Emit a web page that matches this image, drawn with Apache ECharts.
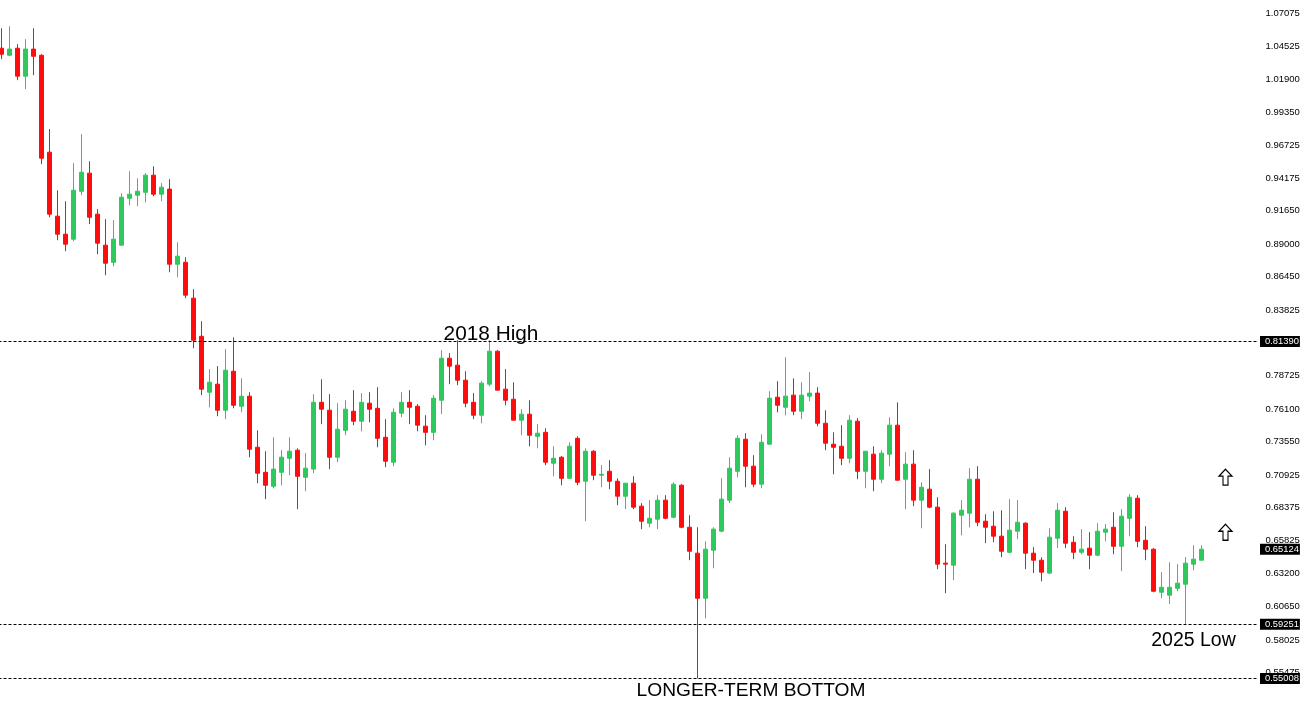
<!DOCTYPE html>
<html>
<head>
    <meta charset="UTF-8">
    <title>Longer-term candlestick chart</title>
    <script src="https://cdn.jsdelivr.net/npm/echarts@6/dist/echarts.min.js"></script>
    <style>
        html, body {margin: 0; padding: 0; background: #fff;}
        #chart {width: 1304px; height: 701px;}
    </style>
</head>
<body>
    <div id="chart"></div>

    <script>
        // candle values, oldest first
        const opens = [
            1.0435, 1.0380, 1.0435, 1.0216, 1.0428, 1.0380, 0.9621, 0.9120, 0.8979, 0.8940,
            0.9315, 0.9457, 0.9136, 0.8893, 0.8759, 0.8893, 0.9260, 0.9284, 0.9307, 0.9441,
            0.9292, 0.9332, 0.8744, 0.8759, 0.8478, 0.8180, 0.7742, 0.7805, 0.7601, 0.7906,
            0.7632, 0.7711, 0.7311, 0.7115, 0.7006, 0.7115, 0.7225, 0.7288, 0.7076, 0.7140,
            0.7663, 0.7601, 0.7233, 0.7444, 0.7593, 0.7515, 0.7656, 0.7616, 0.7389, 0.7194,
            0.7578, 0.7663, 0.7632, 0.7476, 0.7428, 0.7679, 0.8008, 0.7954, 0.7836, 0.7663,
            0.7562, 0.7805, 0.8063, 0.7766, 0.7687, 0.7523, 0.7570, 0.7397, 0.7428, 0.7186,
            0.7233, 0.7068, 0.7381, 0.7045, 0.7280, 0.7092, 0.7123, 0.7045, 0.6928, 0.7030,
            0.6850, 0.6717, 0.6748, 0.6897, 0.6763, 0.7014, 0.6685, 0.6482, 0.6129, 0.6505,
            0.6654, 0.6897, 0.7123, 0.7374, 0.7163, 0.7022, 0.7335, 0.7703, 0.7624, 0.7719,
            0.7593, 0.7711, 0.7735, 0.7499, 0.7335, 0.7319, 0.7225, 0.7515, 0.7123, 0.7257,
            0.7061, 0.7257, 0.7484, 0.7061, 0.7179, 0.6897, 0.6983, 0.6842, 0.6404, 0.6388,
            0.6779, 0.6795, 0.7061, 0.6732, 0.6693, 0.6615, 0.6489, 0.6654, 0.6717, 0.6482,
            0.6427, 0.6326, 0.6599, 0.6810, 0.6567, 0.6489, 0.6521, 0.6466, 0.6646, 0.6685,
            0.6536, 0.6755, 0.6912, 0.6583, 0.6513, 0.6176, 0.6153, 0.6207, 0.6239, 0.6396,
            0.6427
        ];
        const closes = [
            1.0388, 1.0428, 1.0216, 1.0428, 1.0372, 0.9574, 0.9136, 0.8979, 0.8901, 0.9323,
            0.9464, 0.9112, 0.8909, 0.8752, 0.8940, 0.9268, 0.9292, 0.9315, 0.9441, 0.9292,
            0.9347, 0.8744, 0.8807, 0.8502, 0.8149, 0.7766, 0.7820, 0.7601, 0.7914, 0.7640,
            0.7711, 0.7296, 0.7108, 0.7014, 0.7140, 0.7233, 0.7280, 0.7084, 0.7147, 0.7663,
            0.7609, 0.7233, 0.7452, 0.7609, 0.7515, 0.7663, 0.7609, 0.7381, 0.7202, 0.7585,
            0.7663, 0.7624, 0.7484, 0.7428, 0.7695, 0.8008, 0.7946, 0.7836, 0.7656, 0.7562,
            0.7813, 0.8063, 0.7758, 0.7679, 0.7523, 0.7570, 0.7405, 0.7421, 0.7194, 0.7225,
            0.7068, 0.7319, 0.7037, 0.7280, 0.7092, 0.7100, 0.7045, 0.6928, 0.7030, 0.6842,
            0.6732, 0.6755, 0.6897, 0.6755, 0.7022, 0.6685, 0.6497, 0.6129, 0.6513, 0.6670,
            0.6905, 0.7147, 0.7381, 0.7163, 0.7022, 0.7350, 0.7695, 0.7640, 0.7711, 0.7593,
            0.7719, 0.7735, 0.7499, 0.7343, 0.7311, 0.7225, 0.7523, 0.7123, 0.7280, 0.7061,
            0.7265, 0.7484, 0.7053, 0.7179, 0.6897, 0.6998, 0.6842, 0.6396, 0.6396, 0.6795,
            0.6818, 0.7061, 0.6724, 0.6685, 0.6615, 0.6497, 0.6662, 0.6724, 0.6482, 0.6427,
            0.6333, 0.6607, 0.6818, 0.6560, 0.6489, 0.6513, 0.6466, 0.6654, 0.6670, 0.6536,
            0.6771, 0.6920, 0.6575, 0.6513, 0.6184, 0.6215, 0.6215, 0.6247, 0.6404, 0.6435,
            0.6513
        ];
        const lows = [
            1.0349, 1.0372, 1.0185, 1.0115, 1.0224, 0.9527, 0.9112, 0.8932, 0.8846, 0.8924,
            0.9284, 0.9058, 0.8823, 0.8658, 0.8728, 0.8893, 0.9206, 0.9198, 0.9229, 0.9276,
            0.9237, 0.8681, 0.8642, 0.8478, 0.8086, 0.7719, 0.7624, 0.7554, 0.7531, 0.7616,
            0.7585, 0.7233, 0.7030, 0.6905, 0.6990, 0.7014, 0.7092, 0.6827, 0.6967, 0.7108,
            0.7492, 0.7140, 0.7194, 0.7405, 0.7484, 0.7436, 0.7507, 0.7311, 0.7155, 0.7163,
            0.7546, 0.7492, 0.7436, 0.7327, 0.7366, 0.7570, 0.7805, 0.7797, 0.7624, 0.7531,
            0.7499, 0.7789, 0.7758, 0.7640, 0.7523, 0.7405, 0.7319, 0.7303, 0.7171, 0.7084,
            0.7014, 0.7068, 0.7014, 0.6732, 0.7053, 0.6998, 0.6983, 0.6858, 0.6827, 0.6827,
            0.6670, 0.6685, 0.6670, 0.6748, 0.6755, 0.6677, 0.6427, 0.5501, 0.5972, 0.6364,
            0.6646, 0.6874, 0.7076, 0.6998, 0.6998, 0.6990, 0.7335, 0.7585, 0.7562, 0.7562,
            0.7531, 0.7671, 0.7476, 0.7288, 0.7100, 0.7171, 0.7186, 0.7061, 0.6990, 0.6967,
            0.7030, 0.7163, 0.7053, 0.6827, 0.6850, 0.6677, 0.6834, 0.6357, 0.6169, 0.6270,
            0.6622, 0.6685, 0.6693, 0.6560, 0.6567, 0.6450, 0.6482, 0.6591, 0.6357, 0.6326,
            0.6262, 0.6318, 0.6521, 0.6521, 0.6435, 0.6474, 0.6357, 0.6458, 0.6575, 0.6474,
            0.6341, 0.6615, 0.6529, 0.6427, 0.6176, 0.6129, 0.6083, 0.6184, 0.5925, 0.6349,
            0.6427
        ];
        const highs = [
            1.0591, 1.0607, 1.0467, 1.0506, 1.0591, 1.0388, 0.9802, 0.9323, 0.9237, 0.9535,
            0.9762, 0.9550, 0.9175, 0.9097, 0.9089, 0.9300, 0.9472, 0.9417, 0.9457, 0.9511,
            0.9379, 0.9410, 0.8916, 0.8799, 0.8549, 0.8298, 0.7923, 0.7946, 0.8079, 0.8172,
            0.7851, 0.7742, 0.7444, 0.7280, 0.7389, 0.7288, 0.7389, 0.7303, 0.7265, 0.7727,
            0.7843, 0.7727, 0.7656, 0.7679, 0.7758, 0.7735, 0.7742, 0.7781, 0.7531, 0.7616,
            0.7742, 0.7758, 0.7648, 0.7562, 0.7719, 0.8071, 0.8048, 0.8149, 0.7906, 0.7735,
            0.7828, 0.8149, 0.8071, 0.7923, 0.7820, 0.7609, 0.7679, 0.7492, 0.7460, 0.7319,
            0.7241, 0.7350, 0.7397, 0.7303, 0.7288, 0.7171, 0.7210, 0.7068, 0.7030, 0.7084,
            0.6874, 0.6897, 0.6936, 0.6936, 0.7037, 0.7022, 0.6779, 0.6685, 0.6575, 0.6685,
            0.7068, 0.7233, 0.7405, 0.7421, 0.7249, 0.7413, 0.7750, 0.7828, 0.8016, 0.7851,
            0.7820, 0.7899, 0.7781, 0.7601, 0.7428, 0.7484, 0.7562, 0.7539, 0.7280, 0.7319,
            0.7288, 0.7546, 0.7663, 0.7272, 0.7288, 0.7037, 0.7140, 0.6920, 0.6552, 0.6802,
            0.6897, 0.7147, 0.7163, 0.6787, 0.6810, 0.6818, 0.6905, 0.6897, 0.6724, 0.6529,
            0.6450, 0.6677, 0.6874, 0.6842, 0.6615, 0.6670, 0.6646, 0.6717, 0.6709, 0.6802,
            0.6827, 0.6944, 0.6936, 0.6693, 0.6521, 0.6333, 0.6411, 0.6396, 0.6450, 0.6544,
            0.6544
        ];

        // price scale tick labels (0.81275 sits under the 0.81390 box)
        const yTicks = [
            1.07075, 1.04525, 1.01900, 0.99350, 0.96725, 0.94175, 0.91650, 0.89000, 0.86450, 0.83825, 0.81275,
            0.78725, 0.76100, 0.73550, 0.70925, 0.68375, 0.65825, 0.63200, 0.60650, 0.58025, 0.55475
        ];

        const levelLines = [0.81390, 0.59251, 0.55008];
        const lastPrice = 0.65124;

        const noteTexts = ['2018 High', '2025 Low', 'LONGER-TERM BOTTOM'];
        const noteSlots = [62, 150, 95];
        const notePrices = [0.8196, 0.5801, 0.5409];
        const noteFontSizes = [20.8, 19.5, 19.2];
        const noteShifts = [1.5, 0, -2.5];

        const arrowSlot = 154;
        const arrowPrices = [0.7077, 0.6646];

        // one empty slot before the first candle (off canvas) so the level lines
        // reach the left edge, and empty slots after the last candle
        const slotCount = 159;
        const lastSlot = slotCount - 1;
        const categories = [];
        for (let i = 0; i < slotCount; i++) categories.push(String(i));

        const candles = [['-', '-', '-', '-']].concat(opens.map((o, i) => [o, closes[i], lows[i], highs[i]]));

        const labelFont = '"Liberation Sans", Arial, sans-serif';
        const arrowPath = 'path://M6.5 0 L13 7 L9 7 L9 16 L4 16 L4 7 L0 7 Z';

        const boxLabel = {
            show: true,
            position: 'end',
            distance: 2.5,
            formatter: p => Number(p.data.coord[1]).toFixed(5),
            color: '#fff',
            backgroundColor: '#000',
            fontFamily: labelFont,
            fontSize: 9.4,
            lineHeight: 11,
            padding: [0, 1, 0, 5]
        };

        const levelLine = (v, style) => [
            { coord: [0, v], lineStyle: style },
            { coord: [lastSlot, v] }
        ];

        const chart = echarts.init(document.getElementById('chart'));
        chart.setOption({
            animation: false,
            backgroundColor: '#fff',
            grid: { left: -10.5, top: 0, width: 1272, height: 701, outerBoundsMode: 'none' },
            xAxis: {
                type: 'category',
                data: categories,
                boundaryGap: true,
                axisLine: { show: false },
                axisTick: { show: false },
                axisLabel: { show: false },
                splitLine: { show: false }
            },
            yAxis: {
                type: 'value',
                position: 'right',
                min: 0.53247,
                max: 1.08124,
                axisLine: { show: false },
                axisTick: { show: false },
                splitLine: { show: false },
                axisLabel: {
                    customValues: yTicks,
                    formatter: v => v.toFixed(5),
                    margin: 4,
                    color: '#000',
                    fontFamily: labelFont,
                    fontSize: 9.5
                }
            },
            series: [{
                type: 'candlestick',
                data: candles,
                barWidth: 4,
                silent: true,
                itemStyle: {
                    color: '#2dc85e',
                    color0: '#ff0c0c',
                    borderColor: '#2dc85e',
                    borderColor0: '#ff0c0c',
                    borderWidth: 1
                },
                markLine: {
                    silent: true,
                    symbol: 'none',
                    animation: false,
                    precision: 5,
                    lineStyle: { color: '#000', type: [3, 2], width: 1 },
                    label: boxLabel,
                    data: levelLines.map(v => levelLine(v))
                        .concat([levelLine(lastPrice, { color: 'transparent' })])
                },
                markPoint: {
                    silent: true,
                    animation: false,
                    data: noteTexts.map((t, i) => ({
                        name: t,
                        coord: [noteSlots[i], notePrices[i]],
                        symbol: 'circle',
                        symbolSize: 0,
                        label: {
                            show: true,
                            position: 'inside',
                            formatter: t,
                            offset: [noteShifts[i], 0],
                            color: '#000',
                            fontFamily: labelFont,
                            fontSize: noteFontSizes[i]
                        }
                    })).concat(arrowPrices.map(v => ({
                        coord: [arrowSlot, v],
                        symbol: arrowPath,
                        symbolSize: [13, 16],
                        itemStyle: { color: '#fff', borderColor: '#000', borderWidth: 1.2 },
                        label: { show: false }
                    })))
                }
            }]
        });
    </script>
</body>
</html>
